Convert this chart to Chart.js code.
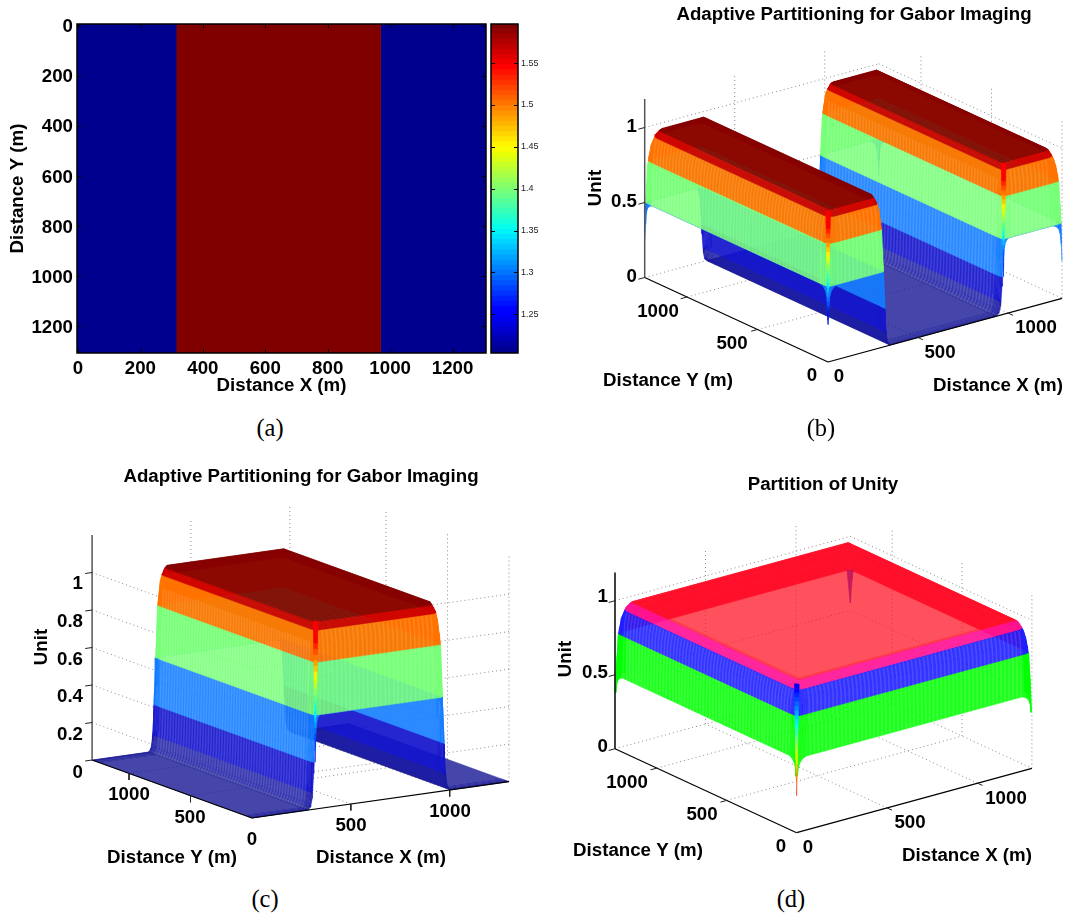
<!DOCTYPE html>
<html>
<head>
<meta charset="utf-8">
<title>Adaptive Partitioning for Gabor Imaging</title>
<script src="https://cdn.jsdelivr.net/npm/chart.js@4"></script>
<style>
  body { margin: 0; background: #fff; width: 1066px; height: 915px; position: relative; overflow: hidden; }
  canvas { position: absolute; }
  .cap { position: absolute; font: 24.5px "Liberation Serif"; color: #000; transform: translate(-50%, -50%); }
</style>
</head>
<body>
<canvas id="mapChart" width="490" height="410" style="left:0;top:0"></canvas>
<canvas id="barChart" width="70" height="410" style="left:488px;top:0"></canvas>
<canvas id="surfB" width="533" height="415" style="left:533px;top:0"></canvas>
<canvas id="surfC" width="533" height="425" style="left:0;top:460px"></canvas>
<canvas id="surfD" width="533" height="425" style="left:533px;top:460px"></canvas>
<div class="cap" style="left:270px;top:428px">(a)</div>
<div class="cap" style="left:821px;top:428px">(b)</div>
<div class="cap" style="left:265px;top:899px">(c)</div>
<div class="cap" style="left:791px;top:899px">(d)</div>
<script>
// panel a: velocity model
var cellEdgesX = [-3, 314, 969, 1307];
var cellValues = [1.2037, 1.5967, 1.2037];
var mapTicks = [0, 200, 400, 600, 800, 1000, 1200];
var barTicks = [1.25, 1.3, 1.35, 1.4, 1.45, 1.5, 1.55];
var barMin = 1.2037, barMax = 1.5967;

var gridEdge = [0, 4, 10, 20, 35, 55, 1245, 1265, 1280, 1290, 1296, 1300];
var heightEdge = [0.5, 0.72, 0.87, 0.94, 0.98, 1, 1, 0.98, 0.94, 0.87, 0.72, 0.5];

var gridXb = [0, 4, 10, 20, 35, 55, 285, 297, 305, 312, 318, 325, 333, 345, 935, 950, 960, 967, 973, 980, 990, 1005, 1245, 1265, 1280, 1290, 1296, 1300];
var heightXb = [0.5, 0.72, 0.87, 0.94, 0.98, 1, 1, 0.97, 0.88, 0.62, 0.38, 0.12, 0.03, 0, 0, 0.03, 0.12, 0.38, 0.62, 0.88, 0.97, 1, 1, 0.98, 0.94, 0.87, 0.72, 0.5];

var gridXc = [0, 285, 297, 305, 312, 318, 325, 333, 345, 935, 950, 960, 967, 973, 980, 990, 1005, 1300];
var heightXc = [0, 0, 0.03, 0.12, 0.38, 0.62, 0.88, 0.97, 1, 1, 0.97, 0.88, 0.62, 0.38, 0.12, 0.03, 0, 0];

var tickLabelsXY = ['0', '500', '1000'];
var tickXY = [0, 500, 1000];
var spikeLevels = [1, 0.97, 0.94, 0.91, 0.88, 0.85, 0.82, 0.79, 0.76, 0.73, 0.7, 0.67, 0.64, 0.61, 0.58, 0.55, 0.52, 0.49, 0.46, 0.43, 0.4, 0.37, 0.34, 0.31, 0.28, 0.25];
var farSpikeLevels = [0.78, 0.72, 0.66, 0.6, 0.55];

function jet(t) {
  var c = function(s) { return Math.round(255 * Math.max(0, Math.min(1, 1.5 - Math.abs(4 * t - s)))); };
  return 'rgb(' + c(3) + ',' + c(2) + ',' + c(0.9375) + ')';
}

var bandsJet = [
  [-1, 0.015, 'rgba(24,24,149,0.8)'],
  [0.015, 0.09, 'rgba(25,25,165,0.85)'],
  [0.09, 0.25, 'rgba(20,20,205,0.92)'],
  [0.25, 0.5, 'rgba(20,125,255,0.9)'],
  [0.5, 0.78, 'rgba(120,255,120,0.88)'],
  [0.78, 0.945, 'rgba(255,115,0,0.95)'],
  [0.945, 0.985, 'rgba(205,0,0,0.95)'],
  [0.985, 2, 'rgba(130,0,0,0.92)']
];
var bandsUnity = [
  [0.38, 0.78, 'rgba(0,255,0,0.88)'],
  [0.78, 0.945, 'rgba(30,30,255,0.9)'],
  [0.945, 0.995, 'rgba(255,20,150,0.92)'],
  [0.995, 2, 'rgba(255,22,40,0.75)']
];
// far walls of panel d only show through the top sheet
var bandsUnityFar = [
  [0.78, 0.995, 'rgb(255,0,50)'],
  [0.995, 2, 'rgba(255,22,40,0.75)']
];

var boldFont = 'bold 18.7px "Liberation Sans"';
var axisFont = { family: 'Liberation Sans', weight: 'bold', size: 18.7 };

// views: where the plot axes land on the page
var viewB = {
  left: 533, top: 0, w: 533, h: 415,
  o: [828, 362], ex: [0.18, -0.049], ey: [-0.141, -0.065], ez: -150,
  zTicks: [0, 0.5, 1], zTop: 1.19, frontWalls: false, axisColor: '#555',
  tickDown: false, walls: [[0, 5], [14, 21]], farBands: null
};
var viewC = {
  left: 0, top: 460, w: 533, h: 425,
  o: [252, 818], ex: [0.1977, -0.028], ey: [-0.123, -0.0446], ez: -187.5,
  zTicks: [0, 0.2, 0.4, 0.6, 0.8, 1], zTop: 1.2, frontWalls: true, axisColor: '#555',
  tickDown: true, walls: [[1, 8]], farBands: null
};
var viewD = {
  left: 533, top: 460, w: 533, h: 425,
  o: [796.6, 832.7], ex: [0.181, -0.0495], ey: [-0.1397, -0.0646], ez: -148,
  zTicks: [0, 0.5, 1], zTop: 1.19, frontWalls: false, axisColor: '#000',
  tickDown: false, walls: [[0, 5]], farBands: bandsUnityFar
};

function project(v, p) {
  return {
    x: v.o[0] + p[0] * v.ex[0] + p[1] * v.ey[0],
    y: v.o[1] + p[0] * v.ex[1] + p[1] * v.ey[1] + p[2] * v.ez
  };
}

// cut a polygon to one height band
function clipZ(pts, level, keepAbove) {
  var out = [];
  for (var i = 0; i < pts.length; i++) {
    var a = pts[i], b = pts[(i + 1) % pts.length];
    var ina = keepAbove ? a[2] >= level : a[2] <= level;
    var inb = keepAbove ? b[2] >= level : b[2] <= level;
    if (ina) out.push(a);
    if (ina !== inb) {
      var t = (level - a[2]) / (b[2] - a[2]);
      out.push([a[0] + t * (b[0] - a[0]), a[1] + t * (b[1] - a[1]), level]);
    }
  }
  return out;
}

function polygon(v, pts, color) {
  var data = pts.map(function(p) { return project(v, p); });
  data.push(data[0]);
  return { data: data, showLine: true, fill: 'shape', backgroundColor: color, borderColor: color, borderWidth: 0.5, pointRadius: 0 };
}

function line(v, a, b, color, width, dash) {
  return { data: [project(v, a), project(v, b)], showLine: true, fill: false, borderColor: color, borderWidth: width, borderDash: dash || [], pointRadius: 0 };
}

function stripe(v, pts) {
  return { data: pts.map(function(p) { return project(v, p); }), showLine: true, fill: false, borderColor: 'rgba(255,255,255,0.12)', borderWidth: 1.5, pointRadius: 0 };
}

function surface(v, gridX, heightX, bands) {
  var out = [], step = 22;
  for (var i = gridX.length - 2; i >= 0; i--) {
    for (var j = gridEdge.length - 2; j >= 0; j--) {
      var quad = [
        [gridX[i], gridEdge[j], heightX[i] * heightEdge[j]],
        [gridX[i + 1], gridEdge[j], heightX[i + 1] * heightEdge[j]],
        [gridX[i + 1], gridEdge[j + 1], heightX[i + 1] * heightEdge[j + 1]],
        [gridX[i], gridEdge[j + 1], heightX[i] * heightEdge[j + 1]]
      ];
      // sheet-hidden part of the far walls, the end caps keep the normal colours
      var isFar = (gridX[i] >= 1245 && gridEdge[j] >= 55) || (gridEdge[j] >= 1245 && gridX[i] >= 55);
      (isFar && v.farBands ? v.farBands : bands).forEach(function(b) {
        var part = clipZ(clipZ(quad, b[0], true), b[1], false);
        if (part.length > 2) out.push(polygon(v, part, b[2]));
      });
    }
    // mesh stripes on the walls that face the viewer, they stop below the red band
    v.walls.forEach(function(w) {
      if (w[0] !== i) return;
      for (var y = 55; y < 1245; y += step) {
        var pts = [];
        for (var k = w[0]; k <= w[1] && heightX[k] <= 0.945; k++) pts.push([gridX[k], y, heightX[k]]);
        out.push(stripe(v, pts));
      }
    });
    if (gridX[i + 1] - gridX[i] > 100 && heightX[i] > 0.5) {
      for (var x = gridX[i]; x < gridX[i + 1]; x += step) {
        var front = [];
        for (var m = 0; m <= 3; m++) front.push([x, gridEdge[m], heightEdge[m]]);
        out.push(stripe(v, front));
      }
    }
  }
  return out;
}

// narrow dip where two tapered edges meet
function spike(v, x, y, levels, width, colorAt) {
  var out = [], top = levels[0], low = levels[levels.length - 1];
  for (var k = 0; k < levels.length - 1; k++) {
    var w0 = width * (levels[k] - low) / (top - low);
    var w1 = width * (levels[k + 1] - low) / (top - low);
    out.push(polygon(v, [
      [x + w0, y, levels[k]], [x, y + w0, levels[k]],
      [x, y + w1, levels[k + 1]], [x + w1, y, levels[k + 1]]
    ], colorAt(levels[k])));
  }
  return out;
}

function gridLines(v) {
  var out = [], dot = [1, 3], col = '#8a8a8a';
  tickXY.slice(1).forEach(function(t) {
    out.push(line(v, [t, 0, 0], [t, 1300, 0], col, 1, dot));
    out.push(line(v, [0, t, 0], [1300, t, 0], col, 1, dot));
    out.push(line(v, [t, 1300, 0], [t, 1300, v.zTop], col, 1, dot));
    out.push(line(v, [1300, t, 0], [1300, t, v.zTop], col, 1, dot));
  });
  out.push(line(v, [1300, 0, 0], [1300, 0, v.zTop], col, 1, dot));
  v.zTicks.forEach(function(z) {
    if (v.frontWalls) {
      if (z === 0) return;
      out.push(line(v, [0, 1300, z], [0, 0, z], col, 1, dot));
      out.push(line(v, [1300, 0, z], [0, 0, z], col, 1, dot));
    } else {
      out.push(line(v, [0, 1300, z], [1300, 1300, z], col, 1, dot));
      out.push(line(v, [1300, 1300, z], [1300, 0, z], col, 1, dot));
    }
  });
  return out;
}

function axes(v) {
  var out = [];
  out.push(line(v, [0, 1300, 0], [0, 0, 0], '#000', 1.2));
  out.push(line(v, [0, 0, 0], [1300, 0, 0], '#000', 1.2));
  out.push(line(v, [0, 1300, 0], [0, 1300, v.zTop], v.axisColor, 1.5));
  v.zTicks.forEach(function(z) {
    out.push(line(v, [0, 1300, z], [-35, 1300, z], '#222', 1));
  });
  tickXY.slice(1).forEach(function(t) {
    if (v.tickDown) {
      out.push(line(v, [t, 0, 0], [t, 0, -0.035], '#222', 1));
      out.push(line(v, [0, t, 0], [0, t, -0.035], '#222', 1));
    } else {
      out.push(line(v, [t, 0, 0], [t, -35, 0], '#222', 1));
      out.push(line(v, [0, t, 0], [-35, t, 0], '#222', 1));
    }
  });
  return out;
}

// draws the texts of a 3d panel at page positions through the chart scales
var panelText = {
  id: 'panelText',
  afterDraw: function(chart, args, opts) {
    var ctx = chart.ctx;
    opts.items.forEach(function(it) {
      ctx.save();
      ctx.translate(chart.scales.x.getPixelForValue(it.x), chart.scales.y.getPixelForValue(it.y));
      if (it.rotate) ctx.rotate(it.rotate);
      ctx.font = it.font || boldFont;
      ctx.fillStyle = '#000';
      ctx.textAlign = it.align || 'center';
      ctx.textBaseline = 'middle';
      ctx.fillText(it.text, 0, 0);
      ctx.restore();
    });
  }
};

// matlab style box: ticks pointing in, on both sides
var boxFrame = {
  id: 'boxFrame',
  afterDraw: function(chart) {
    var ctx = chart.ctx, a = chart.chartArea, len = 4;
    ctx.save();
    ctx.strokeStyle = '#000';
    ctx.lineWidth = 1;
    Object.keys(chart.scales).forEach(function(id) {
      var s = chart.scales[id];
      if (!s.options.display) return;
      s.ticks.forEach(function(t) {
        var p = Math.round(s.getPixelForValue(t.value)) + 0.5;
        ctx.beginPath();
        if (s.isHorizontal()) {
          ctx.moveTo(p, a.top); ctx.lineTo(p, a.top + len);
          ctx.moveTo(p, a.bottom); ctx.lineTo(p, a.bottom - len);
        } else {
          ctx.moveTo(a.left, p); ctx.lineTo(a.left + len, p);
          ctx.moveTo(a.right, p); ctx.lineTo(a.right - len, p);
        }
        ctx.stroke();
      });
    });
    ctx.lineWidth = 1.5;
    ctx.strokeRect(a.left, a.top, a.right - a.left, a.bottom - a.top);
    ctx.restore();
  }
};

// panel a, each cell runs a little under its right neighbour to hide the seam
var mapDatasets = cellValues.map(function(val, i) {
  var xa = cellEdgesX[i], xb = cellEdgesX[i + 1] + 1.5;
  return {
    data: [{ x: xa, y: -6 }, { x: xb, y: -6 }, { x: xb, y: 1306 }, { x: xa, y: 1306 }, { x: xa, y: -6 }],
    showLine: true, fill: 'shape', backgroundColor: jet((val - barMin) / (barMax - barMin)),
    borderColor: 'transparent', borderWidth: 0, pointRadius: 0
  };
});

new Chart(document.getElementById('mapChart'), {
  type: 'scatter',
  data: { datasets: mapDatasets },
  plugins: [boxFrame],
  options: {
    responsive: false, animation: false, events: [],
    layout: { padding: { top: 24, right: 4 } },
    plugins: { legend: { display: false }, tooltip: { enabled: false } },
    scales: {
      x: {
        type: 'linear', min: -3, max: 1307,
        afterBuildTicks: function(s) { s.ticks = mapTicks.map(function(v) { return { value: v }; }); },
        afterFit: function(s) { s.height = 57; },
        grid: { display: false, drawTicks: false }, border: { display: false },
        ticks: { color: '#000', font: axisFont, padding: 5, maxRotation: 0, callback: function(v) { return String(v); } },
        title: { display: true, text: 'Distance X (m)', color: '#000', font: axisFont, padding: { top: 0, bottom: 13 } }
      },
      y: {
        type: 'linear', reverse: true, min: -6, max: 1306,
        afterBuildTicks: function(s) { s.ticks = mapTicks.map(function(v) { return { value: v }; }); },
        afterFit: function(s) { s.width = 77; },
        grid: { display: false, drawTicks: false }, border: { display: false },
        ticks: { color: '#000', font: axisFont, padding: 4, labelOffset: 1.5, callback: function(v) { return String(v); } },
        title: { display: true, text: 'Distance Y (m)', color: '#000', font: axisFont, padding: { top: 7, bottom: 0 } }
      }
    }
  }
});

// colorbar: 64 levels of the map
var barLevels = [];
for (var i = 0; i < 64; i++) {
  barLevels.push({
    data: [[barMin + (barMax - barMin) * i / 64, barMin + (barMax - barMin) * (i + 1.1) / 64]],
    backgroundColor: jet(i / 63), borderWidth: 0, barPercentage: 1, categoryPercentage: 1, grouped: false
  });
}
new Chart(document.getElementById('barChart'), {
  type: 'bar',
  data: { labels: [''], datasets: barLevels },
  plugins: [boxFrame],
  options: {
    responsive: false, animation: false, events: [],
    layout: { padding: { top: 24, left: 3, bottom: 57 } },
    plugins: { legend: { display: false }, tooltip: { enabled: false } },
    scales: {
      x: { display: false },
      y: {
        position: 'right', min: barMin, max: barMax,
        afterBuildTicks: function(s) { s.ticks = barTicks.map(function(v) { return { value: v }; }); },
        afterFit: function(s) { s.width = 40; },
        grid: { display: false, drawTicks: false }, border: { display: false },
        ticks: { color: '#222', font: { family: 'Liberation Sans', size: 9 }, padding: 3, callback: function(v) { return String(v); } }
      }
    }
  }
});

function surfaceChart(id, v, marks, items) {
  // first dataset is painted last, so flip the back-to-front list
  new Chart(document.getElementById(id), {
    type: 'scatter',
    data: { datasets: marks.slice().reverse() },
    plugins: [panelText],
    options: {
      responsive: false, animation: false, events: [],
      plugins: { legend: { display: false }, tooltip: { enabled: false }, panelText: { items: items } },
      scales: {
        x: { type: 'linear', display: false, min: v.left, max: v.left + v.w },
        y: { type: 'linear', display: false, reverse: true, min: v.top, max: v.top + v.h }
      }
    }
  });
}

function textItems(title, titlePos, xPos, yPos, zPos, zLabels, zAlignX, xTitle, yTitle, unitPos) {
  var items = [{ text: title, x: titlePos[0], y: titlePos[1] }];
  xPos.forEach(function(p, i) { items.push({ text: tickLabelsXY[i + 3 - xPos.length], x: p[0], y: p[1] }); });
  yPos.forEach(function(p, i) { items.push({ text: tickLabelsXY[i + 3 - yPos.length], x: p[0], y: p[1] }); });
  zPos.forEach(function(y, i) { items.push({ text: zLabels[i], x: zAlignX, y: y, align: 'right' }); });
  items.push({ text: 'Distance X (m)', x: xTitle[0], y: xTitle[1] });
  items.push({ text: 'Distance Y (m)', x: yTitle[0], y: yTitle[1] });
  items.push({ text: 'Unit', x: unitPos[0], y: unitPos[1], rotate: -Math.PI / 2 });
  return items;
}

function jetUp(z) { return jet(Math.min(0.88, Math.max(0, (z - 0.25) / 0.75))); }
function jetDown(z) { return jet(0.1 + 0.8 * (1 - z) / 0.75); }

var marksB = gridLines(viewB)
  .concat(surface(viewB, gridXb, heightXb, bandsJet))
  .concat(spike(viewB, 975, 0, spikeLevels, 14, jetUp))
  .concat(spike(viewB, 0, 0, spikeLevels, 14, jetUp))
  .concat(axes(viewB));
surfaceChart('surfB', viewB, marksB, textItems(
  'Adaptive Partitioning for Gabor Imaging', [854, 15],
  [[839, 377], [940, 353], [1036, 328]],
  [[812, 376], [732, 344], [658, 312]],
  [277, 202, 127], ['0', '0.5', '1'], 637,
  [998, 386], [668, 381], [596, 188]
));

var marksC = gridLines(viewC)
  .concat(surface(viewC, gridXc, heightXc, bandsJet))
  .concat(spike(viewC, 320, 0, spikeLevels, 14, jetUp))
  .concat(axes(viewC));
surfaceChart('surfC', viewC, marksC, textItems(
  'Adaptive Partitioning for Gabor Imaging', [301, 477],
  [[252, 840], [351, 826], [450, 812]],
  [[190, 818], [129, 795]],
  [773, 735, 697, 660, 622, 584], ['0', '0.2', '0.4', '0.6', '0.8', '1'], 83,
  [381, 858], [172, 858], [42, 647]
));

var marksD = gridLines(viewD)
  .concat(surface(viewD, gridEdge, heightEdge, bandsUnity))
  .concat(spike(viewD, 1300, 1300, farSpikeLevels, -19, function() { return 'rgba(190,20,90,0.85)'; }))
  .concat(spike(viewD, 0, 0, spikeLevels, 14, jetDown))
  .concat(axes(viewD));
surfaceChart('surfD', viewD, marksD, textItems(
  'Partition of Unity', [823, 485],
  [[808, 848], [910, 823], [1006, 799]],
  [[781, 847], [702, 815], [627, 783]],
  [747, 673, 597], ['0', '0.5', '1'], 608,
  [967, 856], [638, 851], [566, 659]
));
</script>
</body>
</html>
